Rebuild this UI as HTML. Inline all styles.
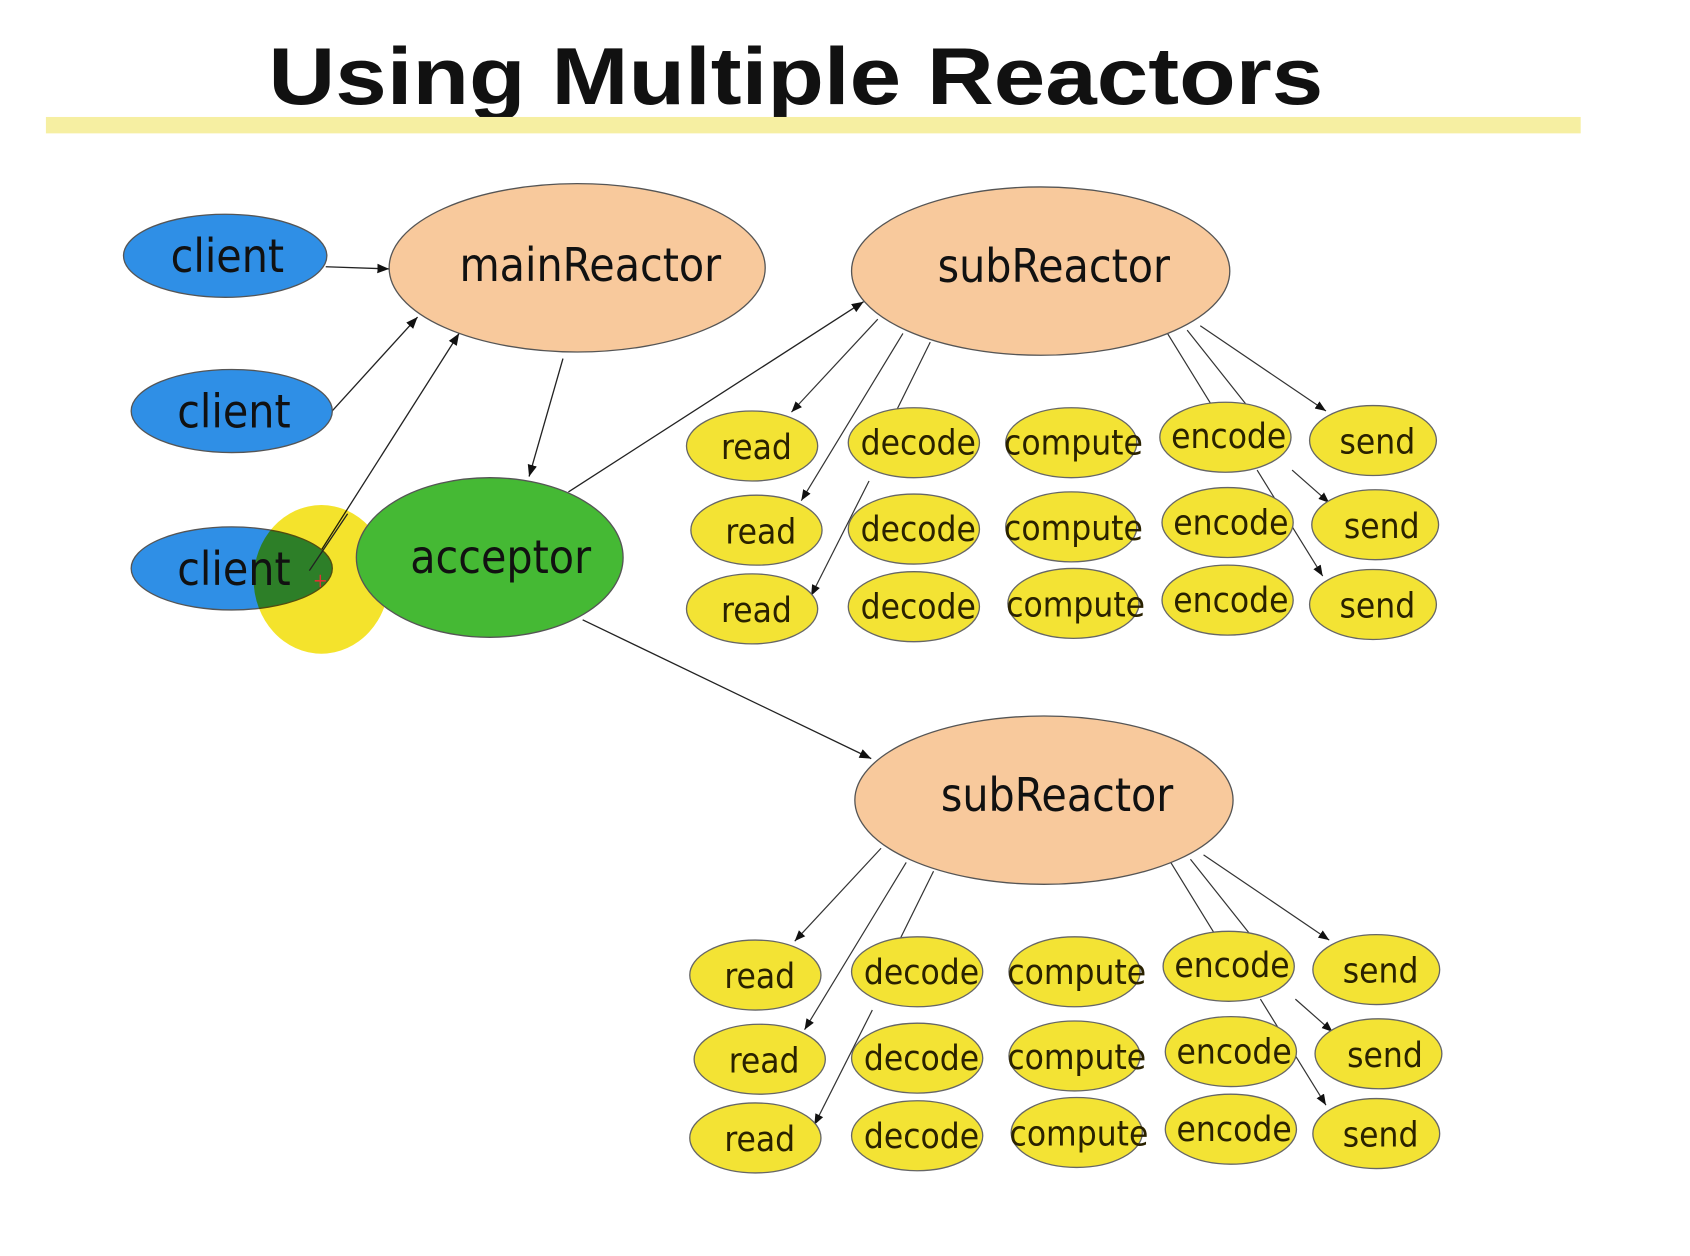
<!DOCTYPE html>
<html><head><style>html,body{margin:0;padding:0;background:#fff;}svg{display:block}</style></head>
<body>
<svg width="1690" height="1256" viewBox="0 0 1546 1149" preserveAspectRatio="none" xmlns="http://www.w3.org/2000/svg" font-family="'DejaVu Sans Condensed','Liberation Sans Narrow','Liberation Sans',sans-serif">
<defs>
<marker id="a" viewBox="0 0 10 10" refX="10" refY="5" markerWidth="9" markerHeight="9" orient="auto"><path d="M0,1 L10,5 L0,9 z" fill="#111"/></marker>
</defs>
<rect width="1546" height="1149" fill="#fff"/>
<text x="728" y="95" text-anchor="middle" font-family="'Liberation Sans',sans-serif" font-weight="bold" font-size="74" fill="#111" textLength="965" lengthAdjust="spacingAndGlyphs">Using Multiple Reactors</text>
<rect x="42" y="107" width="1404" height="15" fill="#f6efa2"/>

<g stroke="#222" stroke-width="1.2" fill="none" marker-end="url(#a)">
<line x1="298" y1="244" x2="356" y2="246"/>
<line x1="302" y1="378" x2="382" y2="290"/>
<line x1="282" y1="522" x2="420" y2="305"/>
<line x1="515" y1="328" x2="484" y2="436"/>
<line x1="520" y1="450" x2="790" y2="276"/>
<line x1="533" y1="567" x2="797" y2="694"/>
</g>

<g stroke="#333" stroke-width="1.1" fill="none">
<line x1="803" y1="292" x2="724" y2="377" marker-end="url(#a)"/>
<line x1="826" y1="305" x2="733" y2="458" marker-end="url(#a)"/>
<line x1="851" y1="313" x2="808" y2="400"/>
<line x1="795" y1="440" x2="742" y2="545" marker-end="url(#a)"/>
<line x1="1098" y1="298" x2="1213" y2="376" marker-end="url(#a)"/>
<line x1="1086" y1="302" x2="1140" y2="370"/>
<line x1="1068" y1="305" x2="1108" y2="370"/>
<line x1="1182" y1="430" x2="1216" y2="460" marker-end="url(#a)"/>
<line x1="1150" y1="430" x2="1210" y2="527" marker-end="url(#a)"/>
</g>

<g stroke="#333" stroke-width="1.1" fill="none">
<line x1="806" y1="776" x2="727" y2="861" marker-end="url(#a)"/>
<line x1="829" y1="789" x2="736" y2="942" marker-end="url(#a)"/>
<line x1="854" y1="797" x2="811" y2="884"/>
<line x1="798" y1="924" x2="745" y2="1029" marker-end="url(#a)"/>
<line x1="1101" y1="782" x2="1216" y2="860" marker-end="url(#a)"/>
<line x1="1089" y1="786" x2="1143" y2="854"/>
<line x1="1071" y1="789" x2="1111" y2="854"/>
<line x1="1185" y1="914" x2="1219" y2="944" marker-end="url(#a)"/>
<line x1="1153" y1="914" x2="1213" y2="1011" marker-end="url(#a)"/>
</g>

<g stroke="#555" stroke-width="1.2">
<ellipse cx="206" cy="234" rx="93" ry="38" fill="#2f8fe6"/>
<ellipse cx="212" cy="376" rx="92" ry="38" fill="#2f8fe6"/>
<ellipse cx="212" cy="520" rx="92" ry="38" fill="#2f8fe6"/>
<ellipse cx="528" cy="245" rx="172" ry="77" fill="#f8c99c"/>
<ellipse cx="952" cy="248" rx="173" ry="77" fill="#f8c99c"/>
<ellipse cx="955" cy="732" rx="173" ry="77" fill="#f8c99c"/>
</g>
<ellipse cx="294" cy="530" rx="62" ry="68" fill="#f4e32c" style="mix-blend-mode:multiply"/>
<ellipse cx="448" cy="510" rx="122" ry="73" fill="#45b934" stroke="#555" stroke-width="1.2"/>
<line x1="283" y1="522" x2="318" y2="470" stroke="#222" stroke-width="1.2"/>
<text x="293" y="537" font-size="18" fill="#d33" text-anchor="middle">+</text>

<g font-size="42" fill="#111" text-anchor="middle">
<text x="208" y="249">client</text>
<text x="214" y="391">client</text>
<text x="214" y="535">client</text>
<text x="540" y="257">mainReactor</text>
<text x="964" y="258">subReactor</text>
<text x="967" y="742">subReactor</text>
<text x="458" y="524">acceptor</text>
</g>

<g stroke="#666" stroke-width="1.2" fill="#f3e334">
<g>
<ellipse cx="688" cy="408" rx="60" ry="32"/><ellipse cx="836" cy="405" rx="60" ry="32"/><ellipse cx="980" cy="405" rx="60" ry="32"/><ellipse cx="1121" cy="400" rx="60" ry="32"/><ellipse cx="1256" cy="403" rx="58" ry="32"/>
<ellipse cx="692" cy="485" rx="60" ry="32"/><ellipse cx="836" cy="484" rx="60" ry="32"/><ellipse cx="980" cy="482" rx="60" ry="32"/><ellipse cx="1123" cy="478" rx="60" ry="32"/><ellipse cx="1258" cy="480" rx="58" ry="32"/>
<ellipse cx="688" cy="557" rx="60" ry="32"/><ellipse cx="836" cy="555" rx="60" ry="32"/><ellipse cx="982" cy="552" rx="60" ry="32"/><ellipse cx="1123" cy="549" rx="60" ry="32"/><ellipse cx="1256" cy="553" rx="58" ry="32"/>
</g>
<g transform="translate(3,484)">
<ellipse cx="688" cy="408" rx="60" ry="32"/><ellipse cx="836" cy="405" rx="60" ry="32"/><ellipse cx="980" cy="405" rx="60" ry="32"/><ellipse cx="1121" cy="400" rx="60" ry="32"/><ellipse cx="1256" cy="403" rx="58" ry="32"/>
<ellipse cx="692" cy="485" rx="60" ry="32"/><ellipse cx="836" cy="484" rx="60" ry="32"/><ellipse cx="980" cy="482" rx="60" ry="32"/><ellipse cx="1123" cy="478" rx="60" ry="32"/><ellipse cx="1258" cy="480" rx="58" ry="32"/>
<ellipse cx="688" cy="557" rx="60" ry="32"/><ellipse cx="836" cy="555" rx="60" ry="32"/><ellipse cx="982" cy="552" rx="60" ry="32"/><ellipse cx="1123" cy="549" rx="60" ry="32"/><ellipse cx="1256" cy="553" rx="58" ry="32"/>
</g>
</g>

<g font-size="32" fill="#2a2200" text-anchor="middle">
<g>
<text x="692" y="420">read</text><text x="840" y="416">decode</text><text x="982" y="416">compute</text><text x="1124" y="410">encode</text><text x="1260" y="415">send</text>
<text x="696" y="497">read</text><text x="840" y="495">decode</text><text x="982" y="494">compute</text><text x="1126" y="489">encode</text><text x="1264" y="492">send</text>
<text x="692" y="569">read</text><text x="840" y="566">decode</text><text x="984" y="564">compute</text><text x="1126" y="560">encode</text><text x="1260" y="565">send</text>
</g>
<g transform="translate(3,484)">
<text x="692" y="420">read</text><text x="840" y="416">decode</text><text x="982" y="416">compute</text><text x="1124" y="410">encode</text><text x="1260" y="415">send</text>
<text x="696" y="497">read</text><text x="840" y="495">decode</text><text x="982" y="494">compute</text><text x="1126" y="489">encode</text><text x="1264" y="492">send</text>
<text x="692" y="569">read</text><text x="840" y="566">decode</text><text x="984" y="564">compute</text><text x="1126" y="560">encode</text><text x="1260" y="565">send</text>
</g>
</g>
</svg>
</body></html>
